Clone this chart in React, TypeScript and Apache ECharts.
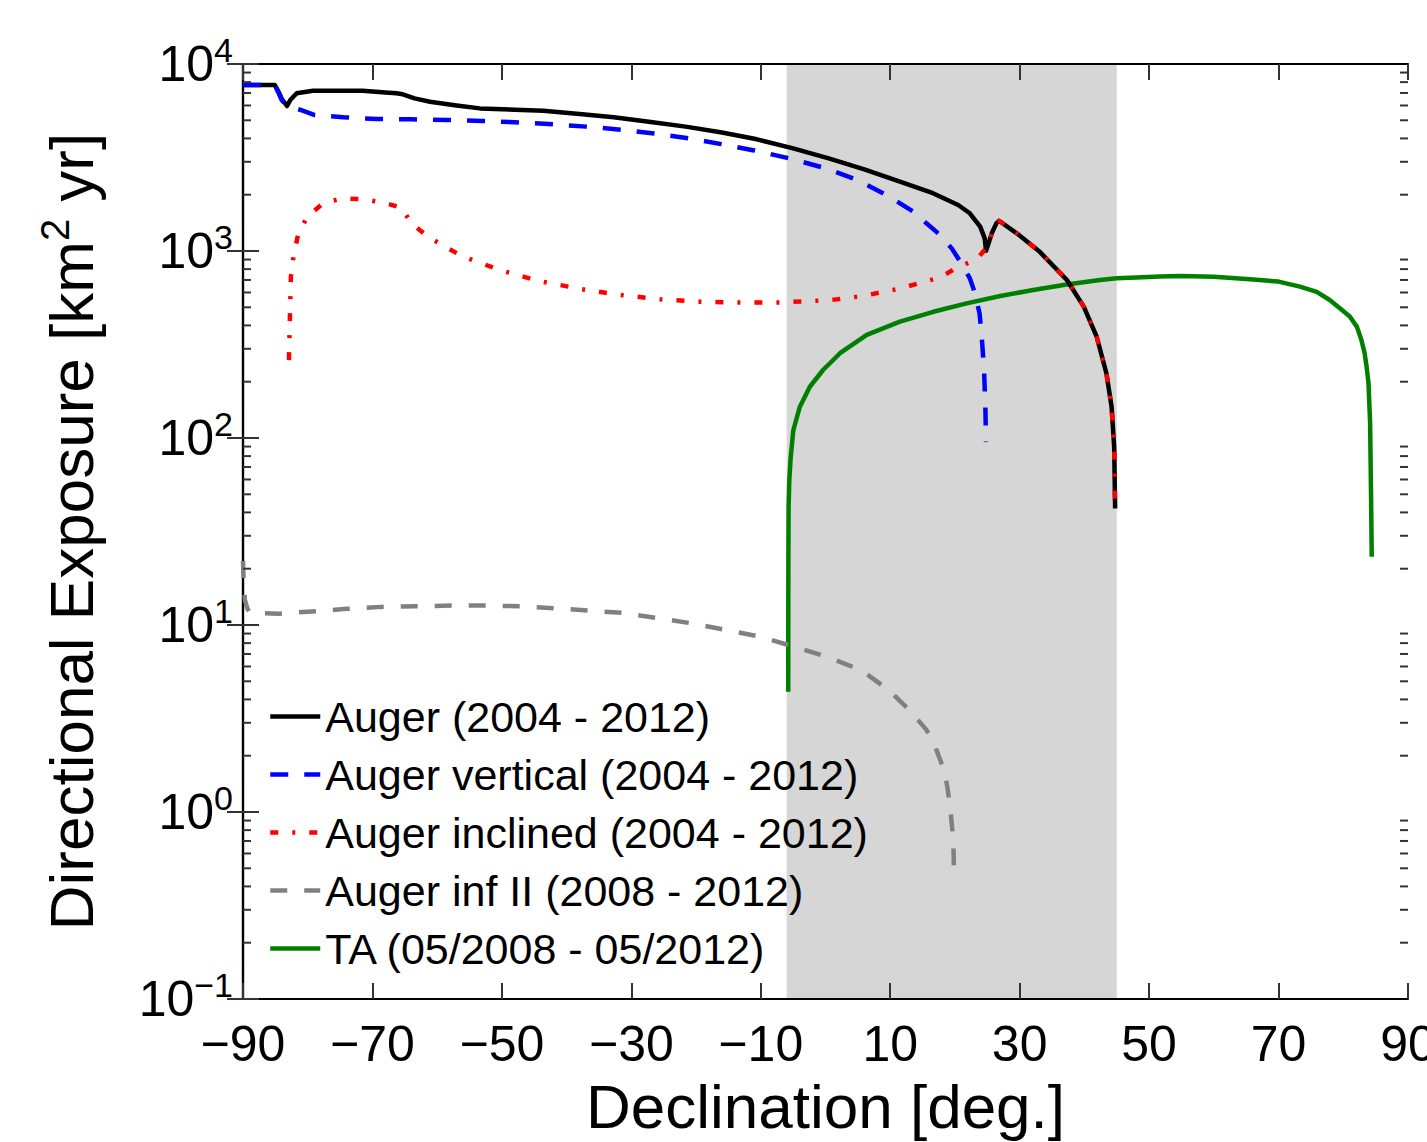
import React, { useEffect, useRef } from 'react';
import * as echarts from 'echarts';

const FONT = '"Liberation Sans", Arial, Helvetica, sans-serif';

// Axis definitions
const xMinDeg = -90;
const xMaxDeg = 90;
const xTickStep = 20;
const yMin = 0.1;
const yMax = 10000;
const minorMultipliers = [2, 3, 4, 5, 6, 7, 8, 9];
const minorDecades = [0.1, 1, 10, 100, 1000];
const bandRange = [-6, 45];

// Auger (2004 - 2012)
const augerDec = [-90, -85.1, -84.5, -84, -83.2, -82.7, -81.7, -79.2, -75, -71.5, -68, -66.3, -65.3, -63.5, -61.1, -57, -53.4, -48, -43.6, -38, -32.7, -27, -21.6, -16, -10.6, -5, 0.5, 6, 11.5, 16.6, 20.5, 22.3, 23.9, 24.6, 24.8, 25.2, 25.7, 26.4, 26.8, 29.5, 33.1, 37.3, 39.9, 41.9, 43.4, 44.2, 44.6, 44.75];
const augerVal = [7730, 7730, 7100, 6500, 5960, 6415, 6970, 7195, 7200, 7195, 7050, 6970, 6885, 6550, 6280, 6000, 5790, 5700, 5625, 5400, 5190, 4900, 4625, 4300, 3955, 3540, 3130, 2735, 2350, 2037, 1762, 1591, 1349, 1169, 1004, 1099, 1247, 1406, 1452, 1247, 990, 700, 504, 348, 222, 147, 90, 42];

// Auger vertical (2004 - 2012)
const vertDec = [-90, -85.1, -84.5, -84, -83.2, -82, -81.1, -78.9, -74.5, -69.3, -64, -58.6, -53, -48.1, -42, -37, -31.5, -26.5, -21, -16.1, -11, -5.6, 0, 4.9, 9.4, 13.6, 15.6, 17.7, 19.5, 21.0, 22.3, 23.1, 23.8, 24.1, 24.5, 24.7, 24.8];
const vertVal = [7730, 7730, 7000, 6400, 5960, 5800, 5680, 5330, 5190, 5080, 5060, 5020, 4960, 4880, 4760, 4625, 4450, 4255, 4000, 3730, 3450, 3130, 2770, 2400, 1995, 1622, 1406, 1219, 1033, 859, 714, 594, 464, 363, 231, 147, 95];

// Auger inclined (2004 - 2012)
const inclDec = [-82.9, -82.75, -82.6, -82.2, -81.5, -80.1, -77.6, -74.7, -71.4, -68.3, -65.5, -64, -61.4, -58.8, -56, -50.3, -44.3, -37.9, -31.8, -25.5, -19.4, -13.1, -6.7, 0.9, 5.7, 11.6, 17.7, 20.6, 23.4, 25.2, 25.7, 26.4, 26.8, 29.5, 33.1, 37.3, 39.9, 41.9, 43.4, 44.2, 44.6, 44.75];
const inclVal = [261, 446, 729, 934, 1219, 1525, 1800, 1913, 1890, 1813, 1705, 1408, 1193, 1055, 933, 791, 691, 627, 582, 552, 536, 530, 531, 547, 574, 631, 723, 824, 904, 1077, 1247, 1406, 1452, 1247, 990, 700, 504, 348, 222, 147, 90, 42];

// Auger inf II (2008 - 2012)
const infDec = [-90, -89.9, -89.7, -89.3, -88.9, -84.5, -79.4, -74, -68.6, -63.2, -57.8, -52.3, -47.2, -41.9, -31.3, -20.6, -10, 0.2, 5.5, 9.75, 12.96, 15.6, 16.96, 18.3, 18.82, 19.3, 19.6, 19.8, 19.85];
const infVal = [22, 17, 13.6, 12.2, 11.6, 11.5, 11.8, 12.2, 12.5, 12.6, 12.7, 12.7, 12.6, 12.3, 11.6, 10.2, 8.66, 6.77, 5.74, 4.49, 3.51, 2.75, 2.23, 1.68, 1.37, 1.03, 0.8, 0.6, 0.43];

// TA (05/2008 - 05/2012)
const taDec = [-5.76, -5.75, -5.73, -5.7, -5.59, -5.37, -4.97, -3.96, -2.42, -0.38, 2.24, 6.37, 11.5, 16.66, 21.8, 27, 32.1, 37, 42.4, 45, 48, 51.7, 54.8, 60, 65.6, 70, 73.3, 75.9, 77.9, 79.8, 81, 82.1, 82.8, 83.3, 83.6, 83.9, 84, 84.15, 84.2, 84.3, 84.4];
const taVal = [4.4, 12, 25, 43, 59.6, 79.4, 110, 147, 188, 231, 284, 356, 419, 473, 525, 575, 618, 660, 700, 714, 722, 730, 735, 728, 706, 686, 645, 605, 547, 483, 446, 394, 334, 284, 241, 196, 160, 120, 86, 46.5, 23.2];

const legendOrder = [
  'Auger (2004 - 2012)',
  'Auger vertical (2004 - 2012)',
  'Auger inclined (2004 - 2012)',
  'Auger inf II (2008 - 2012)',
  'TA (05/2008 - 05/2012)',
];

const shift = (d: number) => d - xMinDeg;
const pairs = (xs: number[], ys: number[]) => xs.map((x, i) => [shift(x), ys[i]]);

const fmtDeg = (v: number) => {
  const d = Math.round(v + xMinDeg);
  return d < 0 ? '\u2212' + Math.abs(d) : String(d);
};
const fmtPow = (v: number) => {
  const e = Math.round(Math.log10(v));
  const es = e < 0 ? '\u2212' + Math.abs(e) : String(e);
  return `{b|10}{s|${es}}`;
};

const tickStyle = { color: '#333', width: 2 };
const axisLineStyle = { color: '#000', width: 2.2 };

export default function App() {
  const ref = useRef<HTMLDivElement>(null);
  useEffect(() => {
    if (!ref.current) return;
    const chart = echarts.init(ref.current, null, { renderer: 'svg' });
    const minorData: number[][] = [];
    minorDecades.forEach((d) => minorMultipliers.forEach((m) => minorData.push([0, m * d])));

    const lineSeries = (name: string, data: number[][], color: string, type: any, width: number, z: number) => ({
      name,
      type: 'line',
      data,
      symbol: 'none',
      showSymbol: false,
      smooth: false,
      z,
      lineStyle: { color, width, type, cap: 'butt', join: 'round' },
      itemStyle: { color },
      emphasis: { disabled: true },
    });

    const option: any = {
      animation: false,
      backgroundColor: '#ffffff',
      textStyle: { fontFamily: FONT },
      grid: { left: 243, right: 19, top: 64, bottom: 143, containLabel: false, outerBoundsMode: 'none' },
      legend: {
        data: legendOrder,
        orient: 'vertical',
        left: 263,
        top: 690,
        itemWidth: 50,
        itemHeight: 14,
        itemGap: 15,
        backgroundColor: 'transparent',
        lineStyle: { width: 4.5 },
        itemStyle: { opacity: 0, borderWidth: 0 },
        textStyle: { fontSize: 43, color: '#000', fontFamily: FONT },
        selectedMode: false,
      },
      xAxis: [
        {
          type: 'value',
          min: 0,
          max: xMaxDeg - xMinDeg,
          interval: xTickStep,
          position: 'bottom',
          z: 2,
          name: 'Declination [deg.]',
          nameLocation: 'middle',
          nameGap: 76,
          nameTextStyle: { fontSize: 62, color: '#000', fontFamily: FONT },
          axisLine: { show: true, lineStyle: axisLineStyle },
          axisTick: { show: true, inside: true, length: 16, lineStyle: tickStyle },
          axisLabel: { formatter: fmtDeg, fontSize: 50, color: '#000', margin: 20, fontFamily: FONT, showMinLabel: true, showMaxLabel: true },
          splitLine: { show: false },
        },
        {
          type: 'value',
          min: 0,
          max: xMaxDeg - xMinDeg,
          interval: xTickStep,
          position: 'top',
          z: 2,
          axisLine: { show: true, lineStyle: axisLineStyle },
          axisTick: { show: true, inside: true, length: 16, lineStyle: tickStyle },
          axisLabel: { show: false },
          splitLine: { show: false },
        },
      ],
      yAxis: [
        {
          type: 'log',
          logBase: 10,
          min: yMin,
          max: yMax,
          position: 'left',
          z: 2,
          name: 'Directional Exposure [km{s|2} yr]',
          nameLocation: 'middle',
          nameGap: 136,
          nameTextStyle: {
            fontSize: 62,
            lineHeight: 72,
            color: '#000',
            fontFamily: FONT,
            rich: { s: { fontSize: 40, lineHeight: 40, verticalAlign: 'top', color: '#000', fontFamily: FONT } },
          },
          axisLine: { show: true, lineStyle: axisLineStyle },
          axisTick: { show: true, inside: true, length: 16, lineStyle: tickStyle },
          axisLabel: {
            formatter: fmtPow,
            margin: 10,
            rich: {
              b: { fontSize: 50, lineHeight: 62, color: '#000', fontFamily: FONT },
              s: { fontSize: 34, lineHeight: 34, verticalAlign: 'top', color: '#000', fontFamily: FONT },
            },
          },
          splitLine: { show: false },
        },
        {
          type: 'log',
          logBase: 10,
          min: yMin,
          max: yMax,
          position: 'right',
          z: 2,
          axisLine: { show: true, lineStyle: axisLineStyle },
          axisTick: { show: true, inside: true, length: 16, lineStyle: tickStyle },
          axisLabel: { show: false },
          splitLine: { show: false },
        },
      ],
      series: [
        {
          name: 'band',
          type: 'line',
          data: [],
          silent: true,
          z: 1,
          markArea: {
            silent: true,
            z: 1,
            itemStyle: { color: '#d6d6d6', opacity: 1 },
            data: [[{ xAxis: shift(bandRange[0]) }, { xAxis: shift(bandRange[1]) }]],
          },
        },
        {
          name: 'minorTicks',
          type: 'custom',
          silent: true,
          z: 4,
          data: minorData,
          renderItem: (params: any, api: any) => {
            const v = api.value(1);
            const l = api.coord([0, v]);
            const r = api.coord([xMaxDeg - xMinDeg, v]);
            return {
              type: 'group',
              children: [
                { type: 'line', shape: { x1: l[0], y1: l[1], x2: l[0] + 8, y2: l[1] }, style: { stroke: '#333', lineWidth: 2 } },
                { type: 'line', shape: { x1: r[0] - 8, y1: r[1], x2: r[0], y2: r[1] }, style: { stroke: '#333', lineWidth: 2 } },
              ],
            };
          },
        },
        lineSeries(legendOrder[4], pairs(taDec, taVal), '#008000', 'solid', 4.5, 3),
        lineSeries(legendOrder[3], pairs(infDec, infVal), '#808080', [17, 17], 4.5, 3),
        lineSeries(legendOrder[0], pairs(augerDec, augerVal), '#000000', 'solid', 4.5, 3),
        lineSeries(legendOrder[1], pairs(vertDec, vertVal), '#0000ff', [18, 16], 4.5, 3),
        lineSeries(legendOrder[2], pairs(inclDec, inclVal), '#ff0000', [8, 14, 3, 14], 4.5, 3),
      ],
    };
    chart.setOption(option);
    return () => chart.dispose();
  }, []);
  return <div ref={ref} style={{ position: 'fixed', left: 0, top: 0, width: 1427, height: 1142 }} />;
}
